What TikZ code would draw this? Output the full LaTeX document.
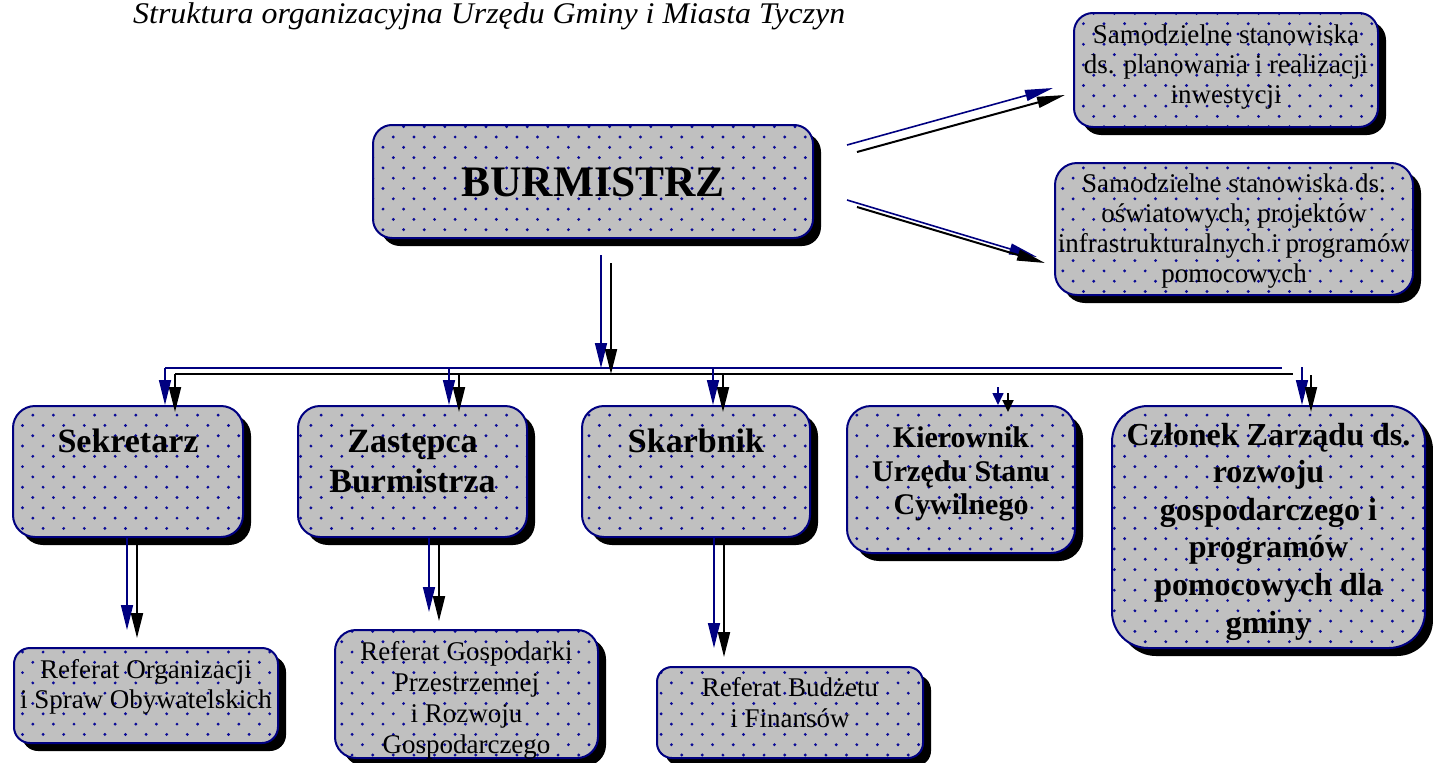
\documentclass[tikz,border=0pt]{standalone}
\usepackage{fontspec}
\setmainfont{Liberation Serif}
\usepackage{graphicx}
\usetikzlibrary{arrows.meta}
\definecolor{navy}{RGB}{0,0,128}
\definecolor{dotblue}{RGB}{10,10,150}
\definecolor{boxgray}{RGB}{192,192,192}
\pgfdeclarelayer{bg}
\pgfsetlayers{bg,main}
\newcommand\bt[5]{\parbox[c][#2pt][t]{#1pt}{#4\centering\vspace*{#3pt}\strut #5}}
\newcommand\regf{\fontsize{27}{30}\selectfont}
\begin{document}
\begin{tikzpicture}[x=1pt,y=-1pt,
  box/.style={draw=navy,line width=2pt,inner sep=0pt,outer sep=0pt,anchor=north west},
  navyar/.style={draw=navy,line width=1.6pt,-{Triangle[length=25pt,width=12pt]}},
  blackar/.style={draw=black,line width=2pt,-{Triangle[length=25pt,width=12pt]}},
  navydg/.style={draw=navy,line width=1.6pt,-{Triangle[length=28pt,width=11pt]}},
  blackdg/.style={draw=black,line width=2pt,-{Triangle[length=28pt,width=11pt]}},
  navysm/.style={draw=navy,line width=1.6pt,-{Triangle[length=12pt,width=11pt]}},
  blacksm/.style={draw=black,line width=2pt,-{Triangle[length=12pt,width=11pt]}},
  hline/.style={line width=2pt}]
\useasboundingbox (0,0) rectangle (1433,763);

\node[anchor=base west,inner sep=0pt] (title) at (133,23)
  {\resizebox{712pt}{\height}{\fontsize{30}{36}\selectfont\itshape Struktura organizacyjna Urzędu Gminy i Miasta Tyczyn}};

\node[box,rounded corners=19pt] (burm) at (373,125)
  {\bt{440}{113}{39.3}{\fontsize{43.5}{46}\selectfont\bfseries}{BURMISTRZ}};
\node[box,rounded corners=19pt] (tr1) at (1074,13)
  {\bt{304}{114}{9}{\regf}{Samodzielne stanowiska\\ds. planowania i realizacji\\inwestycji}};
\node[box,rounded corners=22pt] (tr2) at (1055,163)
  {\bt{358}{132}{8}{\regf}{Samodzielne stanowiska ds.\\oświatowych, projektów\\infrastrukturalnych i programów\\pomocowych}};
\node[box,rounded corners=22pt] (sek) at (13,406)
  {\bt{230}{131}{18}{\fontsize{34}{40}\selectfont\bfseries}{Sekretarz}};
\node[box,rounded corners=22pt] (zas) at (298,406)
  {\bt{229}{131}{18}{\fontsize{34}{40}\selectfont\bfseries}{Zastępca\\Burmistrza}};
\node[box,rounded corners=22pt] (ska) at (582,406)
  {\bt{228}{131}{18}{\fontsize{34}{40}\selectfont\bfseries}{Skarbnik}};
\node[box,rounded corners=24pt] (kie) at (847,406)
  {\bt{228}{147}{18.5}{\fontsize{30}{33.5}\selectfont\bfseries}{Kierownik\\Urzędu Stanu\\Cywilnego}};
\node[box,rounded corners=36pt] (czl) at (1112,406)
  {\bt{313}{242}{12.7}{\fontsize{32}{37.6}\selectfont\bfseries}{Członek Zarządu ds.\\rozwoju\\gospodarczego i\\programów\\pomocowych dla\\gminy}};
\node[box,rounded corners=16pt] (rorg) at (14,648)
  {\bt{264}{95}{9}{\regf}{Referat Organizacji\\i Spraw Obywatelskich}};
\node[box,rounded corners=21pt] (rgos) at (335,630)
  {\bt{263}{128}{9.5}{\fontsize{27}{30.7}\selectfont}{Referat Gospodarki\\Przestrzennej\\i Rozwoju\\Gospodarczego}};
\node[box,rounded corners=15pt] (rbud) at (657,667)
  {\bt{266}{91}{7.3}{\fontsize{27}{31}\selectfont}{Referat Budżetu\\i Finansów}};

\begin{pgfonlayer}{bg}
  \foreach \n/\r in {burm/19,tr1/19,tr2/22,sek/22,zas/22,ska/22,kie/24,czl/36,rorg/16,rgos/21,rbud/15}{
    \fill[black,rounded corners=\r pt] ([shift={(8,8)}]\n.north west) rectangle ([shift={(8,8)}]\n.south east);
  }
  \foreach \n/\r in {burm/19,tr1/19,tr2/22,sek/22,zas/22,ska/22,kie/24,czl/36,rorg/16,rgos/21,rbud/15}{
    \fill[boxgray,rounded corners=\r pt] (\n.north west) rectangle (\n.south east);
  }
  \begin{scope}
    \clip [rounded corners=19pt] (burm.north west) rectangle (burm.south east)
          (tr1.north west) rectangle (tr1.south east)
          [rounded corners=22pt] (tr2.north west) rectangle (tr2.south east)
          (sek.north west) rectangle (sek.south east)
          (zas.north west) rectangle (zas.south east)
          (ska.north west) rectangle (ska.south east)
          [rounded corners=24pt] (kie.north west) rectangle (kie.south east)
          [rounded corners=36pt] (czl.north west) rectangle (czl.south east)
          [rounded corners=16pt] (rorg.north west) rectangle (rorg.south east)
          [rounded corners=21pt] (rgos.north west) rectangle (rgos.south east)
          [rounded corners=15pt] (rbud.north west) rectangle (rbud.south east);
    \foreach \j in {0,...,74}{
      \pgfmathsetmacro\yy{3.1+10.3*\j}
      \pgfmathsetmacro\xo{12.2-10.3*mod(\j,2)}
      \fill[dotblue] \foreach \i in {0,...,70}{ ({\xo+20.6*\i},\yy) circle (1.6pt) };
    }
  \end{scope}
\end{pgfonlayer}

% connector end points
\coordinate (n1s) at (847,145); \coordinate (n1e) at (1053,88);
\coordinate (b1s) at (857,152); \coordinate (b1e) at (1065,95);
\coordinate (n2s) at (847,200); \coordinate (n2e) at (1037,257);
\coordinate (b2s) at (857,207); \coordinate (b2e) at (1045,263);
\coordinate (nts) at (601,255); \coordinate (nte) at (601,368);
\coordinate (bts) at (611,263); \coordinate (bte) at (611,374);
\coordinate (hnl) at (165,368); \coordinate (hnr) at (1282,368);
\coordinate (hbl) at (175,374); \coordinate (hbr) at (1293,374);
\coordinate (sekn) at (165,405); \coordinate (sekb) at (175,412);
\coordinate (zn0) at (449,368); \coordinate (zn1) at (449,405);
\coordinate (zb0) at (459,374); \coordinate (zb1) at (459,412);
\coordinate (sn0) at (713,368); \coordinate (sn1) at (713,405);
\coordinate (sb0) at (723,374); \coordinate (sb1) at (723,412);
\coordinate (kn0) at (998,387); \coordinate (kn1) at (998,405);
\coordinate (kb0) at (1008,393); \coordinate (kb1) at (1008,412);
\coordinate (cn0) at (1302,367); \coordinate (cn1) at (1302,405);
\coordinate (cb0) at (1311,375); \coordinate (cb1) at (1311,412);
\coordinate (l1n0) at (127,537); \coordinate (l1n1) at (127,630);
\coordinate (l1b0) at (137,545); \coordinate (l1b1) at (137,638);
\coordinate (l2n0) at (429,537); \coordinate (l2n1) at (429,612);
\coordinate (l2b0) at (439,545); \coordinate (l2b1) at (439,621);
\coordinate (l3n0) at (714,537); \coordinate (l3n1) at (714,648);
\coordinate (l3b0) at (724,545); \coordinate (l3b1) at (724,657);

\draw[navydg] (n1s) -- (n1e);
\draw[blackdg] (b1s) -- (b1e);
\draw[navydg] (n2s) -- (n2e);
\draw[blackdg] (b2s) -- (b2e);

\draw[hline,navy] (hnl) -- (hnr);
\draw[hline,black] (hbl) -- (hbr);
\draw[navyar] (nts) -- (nte);
\draw[blackar] (bts) -- (bte);

\draw[navyar] (hnl) -- (sekn);
\draw[blackar] (hbl) -- (sekb);
\draw[navyar] (zn0) -- (zn1);
\draw[blackar] (zb0) -- (zb1);
\draw[navyar] (sn0) -- (sn1);
\draw[blackar] (sb0) -- (sb1);
\draw[navysm] (kn0) -- (kn1);
\draw[blacksm] (kb0) -- (kb1);
\draw[navyar] (cn0) -- (cn1);
\draw[blackar] (cb0) -- (cb1);

\draw[navyar] (l1n0) -- (l1n1);
\draw[blackar] (l1b0) -- (l1b1);
\draw[navyar] (l2n0) -- (l2n1);
\draw[blackar] (l2b0) -- (l2b1);
\draw[navyar] (l3n0) -- (l3n1);
\draw[blackar] (l3b0) -- (l3b1);
\end{tikzpicture}
\end{document}
